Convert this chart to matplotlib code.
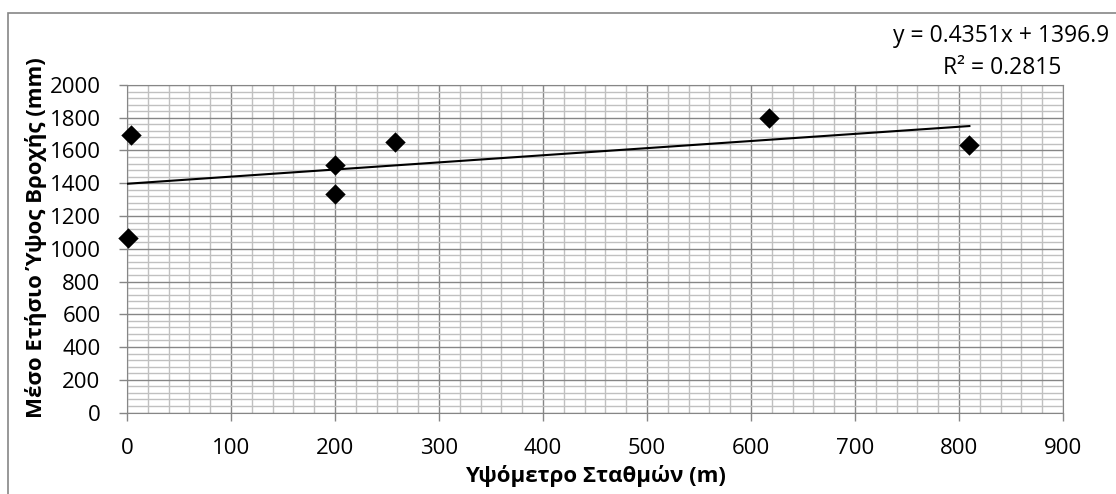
import numpy as np
import matplotlib.pyplot as plt
from matplotlib.patches import Rectangle

plt.rcParams['font.family'] = ['Open Sans', 'DejaVu Sans']

altitude = [1, 4, 200, 200, 258, 617, 810]
rainfall = [1068, 1696, 1512, 1335, 1650, 1800, 1632]
slope = 0.4351
intercept = 1396.9
equation = 'y = 0.4351x + 1396.9'
r_squared = 'R² = 0.2815'
xlabel = 'Υψόμετρο Σταθμών (m)'
ylabel = 'Μέσο Ετήσιο Ύψος Βροχής (mm)'

W, H = 1116, 494
fig = plt.figure(figsize=(W / 100, H / 100), dpi=100)
ax = fig.add_axes([127 / W, 1 - 412.5 / H, (1063 - 127) / W, (412.5 - 85) / H])

ax.set_xlim(0, 900)
ax.set_ylim(0, 2000)
ax.set_xticks(np.arange(0, 901, 100))
ax.set_yticks(np.arange(0, 2001, 200))
ax.set_xticks(np.arange(0, 901, 20), minor=True)
ax.set_yticks(np.arange(0, 2001, 40), minor=True)
ax.grid(which='minor', color='#c0c0c0', linewidth=1.0)
ax.grid(which='major', color='#868686', linewidth=1.0)
ax.set_axisbelow(True)
ax.tick_params(which='minor', length=0)
ax.tick_params(which='major', length=6, width=1.0, color='#868686', labelsize=16)
ax.tick_params(axis='y', pad=13)
ax.tick_params(axis='x', pad=12)
for s in ax.spines.values():
    s.set_color('#868686')

xs = np.array([0, max(altitude)])
ax.plot(xs, slope * xs + intercept, color='black', linewidth=1.5, zorder=3)
ax.scatter(altitude, rainfall, marker='D', s=108, color='black', linewidths=0, zorder=4, clip_on=False)

ax.set_xlabel(xlabel, fontsize=16, fontweight='bold', labelpad=5)
ax.set_ylabel(ylabel, fontsize=16, fontweight='bold')
ax.yaxis.set_label_coords(47 / W, 1 - 238 / H, transform=fig.transFigure)

fig.text(1109 / W, 1 - 42 / H, equation, ha='right', va='baseline', fontsize=16.5)
fig.text(1061 / W, 1 - 74 / H, r_squared, ha='right', va='baseline', fontsize=16.5)

fig.patches.append(Rectangle((8 / W, -0.1), 1.2, 1.1 - 13 / H, transform=fig.transFigure,
                             fill=False, edgecolor='#868686', linewidth=1.2))

fig.savefig('out.png', dpi=100)
